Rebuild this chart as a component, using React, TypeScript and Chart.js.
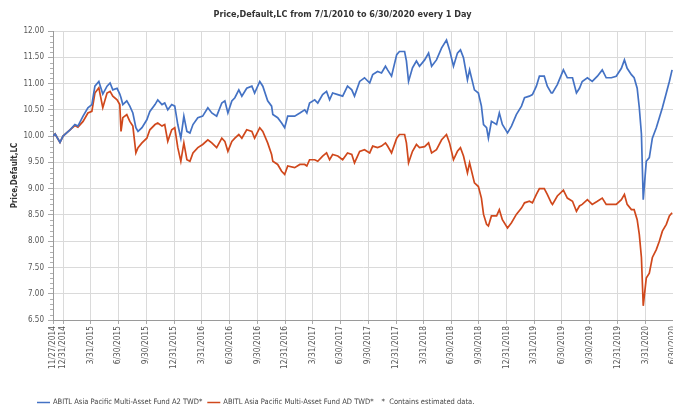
import React, { useEffect, useRef } from 'react';
import { Chart, registerables } from 'chart.js';

Chart.register(...registerables);

const TITLE = 'Price,Default,LC from 7/1/2010 to 6/30/2020 every 1 Day';
const Y_TITLE = 'Price,Default,LC';
const SERIES_NAMES = [
  'ABITL Asia Pacific Multi-Asset Fund A2 TWD*',
  'ABITL Asia Pacific Multi-Asset Fund AD TWD*',
];
const NOTE = '*  Contains estimated data.';
const START_DATE = '11/27/2014';
const END_DATE = '6/30/2020';

const xTickLabels = [
  '11/27/2014', '12/31/2014', '3/31/2015', '6/30/2015', '9/30/2015', '12/31/2015',
  '3/31/2016', '6/30/2016', '9/30/2016', '12/31/2016', '3/31/2017', '6/30/2017',
  '9/30/2017', '12/31/2017', '3/31/2018', '6/30/2018', '9/30/2018', '12/31/2018',
  '3/31/2019', '6/30/2019', '9/30/2019', '12/31/2019', '3/31/2020', '6/30/2020',
];

const Y_MIN = 6.5;
const Y_MAX = 12;
const Y_STEP = 0.5;
const Y_MINOR_STEP = 0.1;

// days since 11/27/2014
const sampleDays = [
  0, 7, 23, 33, 56, 72, 82, 99, 115, 128,
  138, 151, 164, 178, 188, 197, 211, 220, 224, 230,
  243, 253, 263, 273, 280, 293, 309, 319, 336, 345,
  359, 368, 378, 391, 401, 411, 421, 431, 441, 451,
  461, 477, 493, 510, 523, 539, 556, 566, 576, 589,
  599, 612, 622, 638, 655, 664, 681, 691, 707, 720,
  724, 740, 753, 763, 773, 796, 813, 829, 836, 845,
  862, 872, 888, 901, 911, 921, 938, 954, 970, 984,
  993, 1010, 1026, 1043, 1053, 1069, 1082, 1095, 1102, 1115,
  1132, 1141, 1158, 1164, 1171, 1184, 1197, 1207, 1224, 1237,
  1247, 1263, 1280, 1296, 1306, 1319, 1332, 1342, 1352, 1365,
  1372, 1388, 1401, 1411, 1418, 1428, 1434, 1444, 1461, 1470,
  1480, 1497, 1510, 1526, 1543, 1553, 1569, 1579, 1592, 1602,
  1618, 1628, 1641, 1645, 1661, 1681, 1694, 1711, 1724, 1734,
  1743, 1760, 1776, 1793, 1809, 1822, 1839, 1855, 1872, 1882,
  1891, 1905, 1914, 1924, 1931, 1938, 1944, 1954, 1964, 1974,
  1987, 1997, 2007, 2020, 2030, 2039,
];

const a2Values = [
  10.00, 10.04, 9.88, 10.00, 10.12, 10.22, 10.19, 10.38, 10.54, 10.60,
  10.95, 11.04, 10.80, 10.95, 11.01, 10.88, 10.91, 10.80, 10.73, 10.60,
  10.67, 10.57, 10.44, 10.16, 10.09, 10.16, 10.31, 10.47, 10.60, 10.69,
  10.60, 10.63, 10.50, 10.60, 10.57, 10.22, 9.96, 10.38, 10.09, 10.06,
  10.22, 10.35, 10.38, 10.54, 10.44, 10.38, 10.63, 10.67, 10.44, 10.67,
  10.73, 10.88, 10.76, 10.91, 10.95, 10.82, 11.04, 10.95, 10.67, 10.57,
  10.41, 10.35, 10.25, 10.16, 10.38, 10.38, 10.44, 10.50, 10.44, 10.63,
  10.69, 10.63, 10.79, 10.85, 10.69, 10.82, 10.79, 10.76, 10.95, 10.88,
  10.76, 11.04, 11.11, 11.01, 11.17, 11.23, 11.20, 11.33, 11.26, 11.14,
  11.55, 11.61, 11.61, 11.43, 11.04, 11.30, 11.43, 11.33, 11.45, 11.58,
  11.33, 11.45, 11.68, 11.83, 11.64, 11.33, 11.58, 11.64, 11.49, 11.07,
  11.26, 10.88, 10.82, 10.57, 10.22, 10.16, 9.96, 10.28, 10.22, 10.44,
  10.22, 10.06, 10.19, 10.41, 10.57, 10.73, 10.76, 10.79, 10.95, 11.14,
  11.14, 10.95, 10.82, 10.82, 10.98, 11.26, 11.11, 11.11, 10.82, 10.91,
  11.04, 11.11, 11.04, 11.14, 11.26, 11.11, 11.11, 11.14, 11.29, 11.45,
  11.29, 11.17, 11.11, 10.91, 10.54, 10.04, 8.79, 9.52, 9.59, 9.96,
  10.16, 10.35, 10.54, 10.82, 11.04, 11.26,
];

const adValues = [
  10.00, 10.04, 9.88, 10.00, 10.12, 10.20, 10.17, 10.28, 10.44, 10.47,
  10.82, 10.92, 10.54, 10.82, 10.85, 10.76, 10.69, 10.60, 10.09, 10.35,
  10.41, 10.28, 10.19, 9.68, 9.78, 9.87, 9.96, 10.12, 10.22, 10.25,
  10.19, 10.22, 9.90, 10.12, 10.16, 9.78, 9.52, 9.87, 9.55, 9.52,
  9.68, 9.78, 9.84, 9.93, 9.87, 9.78, 9.96, 9.90, 9.71, 9.90,
  9.96, 10.03, 9.96, 10.12, 10.09, 9.96, 10.16, 10.09, 9.87, 9.65,
  9.52, 9.46, 9.33, 9.27, 9.43, 9.40, 9.46, 9.46, 9.43, 9.55,
  9.55, 9.52, 9.62, 9.68, 9.55, 9.65, 9.62, 9.55, 9.68, 9.65,
  9.49, 9.71, 9.74, 9.68, 9.81, 9.78, 9.81, 9.87, 9.81, 9.68,
  9.96, 10.03, 10.03, 9.87, 9.49, 9.71, 9.84, 9.78, 9.80, 9.87,
  9.68, 9.74, 9.93, 10.03, 9.87, 9.55, 9.71, 9.78, 9.62, 9.30,
  9.49, 9.11, 9.04, 8.82, 8.51, 8.32, 8.29, 8.48, 8.48, 8.60,
  8.41, 8.25, 8.35, 8.51, 8.63, 8.73, 8.76, 8.73, 8.89, 9.00,
  9.00, 8.89, 8.73, 8.70, 8.86, 8.97, 8.82, 8.76, 8.57, 8.67,
  8.70, 8.79, 8.70, 8.76, 8.82, 8.70, 8.70, 8.70, 8.79, 8.89,
  8.70, 8.60, 8.60, 8.41, 8.13, 7.69, 6.77, 7.30, 7.39, 7.69,
  7.84, 8.00, 8.19, 8.32, 8.48, 8.54,
];

const COLORS = ['#4472c4', '#d0481c'];
const FONT = '"DejaVu Sans Condensed", "DejaVu Sans", sans-serif';

function parseDate(s: string): number {
  const [m, d, y] = s.split('/').map(Number);
  return Date.UTC(y, m - 1, d);
}
function dayOf(s: string): number {
  return Math.round((parseDate(s) - parseDate(START_DATE)) / 86400000);
}

const tickDays = xTickLabels.map(dayOf);

const decorPlugin = {
  id: 'decor',
  afterDraw(chart: any) {
    const ctx = chart.ctx as CanvasRenderingContext2D;
    const area = chart.chartArea;
    const ys = chart.scales.y;
    ctx.save();
    // minor y ticks
    ctx.strokeStyle = '#b0b0b0';
    ctx.lineWidth = 1;
    const n = Math.round((Y_MAX - Y_MIN) / Y_MINOR_STEP);
    for (let k = 0; k <= n; k++) {
      if (k % Math.round(Y_STEP / Y_MINOR_STEP) === 0) continue;
      const py = Math.round(ys.getPixelForValue(Y_MIN + k * Y_MINOR_STEP)) + 0.5;
      ctx.beginPath();
      ctx.moveTo(area.left - 3, py);
      ctx.lineTo(area.left, py);
      ctx.stroke();
    }
    // title
    ctx.font = `bold 9px ${FONT}`;
    ctx.fillStyle = '#333';
    ctx.textAlign = 'center';
    ctx.textBaseline = 'middle';
    ctx.fillText(TITLE, chart.width / 2, 15);
    // legend
    ctx.font = `7.5px ${FONT}`;
    ctx.textAlign = 'left';
    let x = 37;
    const ly = 402;
    SERIES_NAMES.forEach((name, i) => {
      ctx.strokeStyle = COLORS[i];
      ctx.lineWidth = 1.5;
      ctx.beginPath();
      ctx.moveTo(x, ly + 0.5);
      ctx.lineTo(x + 13, ly + 0.5);
      ctx.stroke();
      x += 16;
      ctx.fillStyle = '#444';
      ctx.fillText(name, x, ly);
      x += ctx.measureText(name).width + 5;
    });
    x += 3;
    ctx.fillText(NOTE, x, ly);
    ctx.restore();
  },
};

export default function App() {
  const ref = useRef<HTMLCanvasElement | null>(null);
  useEffect(() => {
    if (!ref.current) return;
    const chart = new Chart(ref.current, {
      type: 'line',
      data: {
        datasets: [
          {
            label: SERIES_NAMES[0],
            data: sampleDays.map((d, i) => ({ x: d, y: a2Values[i] })),
            borderColor: COLORS[0],
            borderWidth: 1.7,
            pointRadius: 0,
            tension: 0,
          },
          {
            label: SERIES_NAMES[1],
            data: sampleDays.map((d, i) => ({ x: d, y: adValues[i] })),
            borderColor: COLORS[1],
            borderWidth: 1.7,
            pointRadius: 0,
            tension: 0,
          },
        ],
      },
      options: {
        animation: false,
        responsive: false,
        maintainAspectRatio: false,
        layout: { padding: { top: 31, right: 12, bottom: 0, left: 0 } },
        plugins: {
          legend: { display: false },
          title: { display: false },
          tooltip: { enabled: false },
        },
        scales: {
          x: {
            type: 'linear',
            min: 0,
            max: dayOf(END_DATE),
            afterBuildTicks: (s: any) => {
              s.ticks = tickDays.map((v) => ({ value: v }));
            },
            afterFit: (s: any) => {
              s.height = 99;
            },
            ticks: {
              autoSkip: false,
              maxRotation: 90,
              minRotation: 90,
              padding: 2,
              color: '#555',
              font: { family: FONT, size: 8.3 },
              callback: (v: any) => {
                const idx = tickDays.indexOf(Number(v));
                return idx >= 0 ? xTickLabels[idx] : '';
              },
            },
            grid: { color: '#dadada', tickLength: 4, tickColor: '#aaa', lineWidth: 1 },
            border: { color: '#9a9a9a' },
          },
          y: {
            min: Y_MIN,
            max: Y_MAX,
            afterFit: (s: any) => {
              s.width = 53;
            },
            ticks: {
              stepSize: Y_STEP,
              padding: 4,
              color: '#555',
              font: { family: FONT, size: 8 },
              callback: (v: any) => Number(v).toFixed(2),
            },
            grid: { color: '#dadada', tickLength: 5, tickColor: '#aaa', lineWidth: 1 },
            border: { color: '#9a9a9a' },
            title: {
              display: true,
              text: Y_TITLE,
              color: '#333',
              font: { family: FONT, size: 8, weight: 'bold' },
              padding: { top: 10, bottom: 0 },
            },
          },
        },
      },
      plugins: [decorPlugin],
    } as any);
    return () => chart.destroy();
  }, []);

  return (
    <div style={{ position: 'absolute', left: 0, top: 0, width: 673, height: 419, overflow: 'hidden', background: '#fff' }}>
      <canvas ref={ref} width={685} height={419} style={{ width: 685, height: 419, display: 'block' }} />
    </div>
  );
}
